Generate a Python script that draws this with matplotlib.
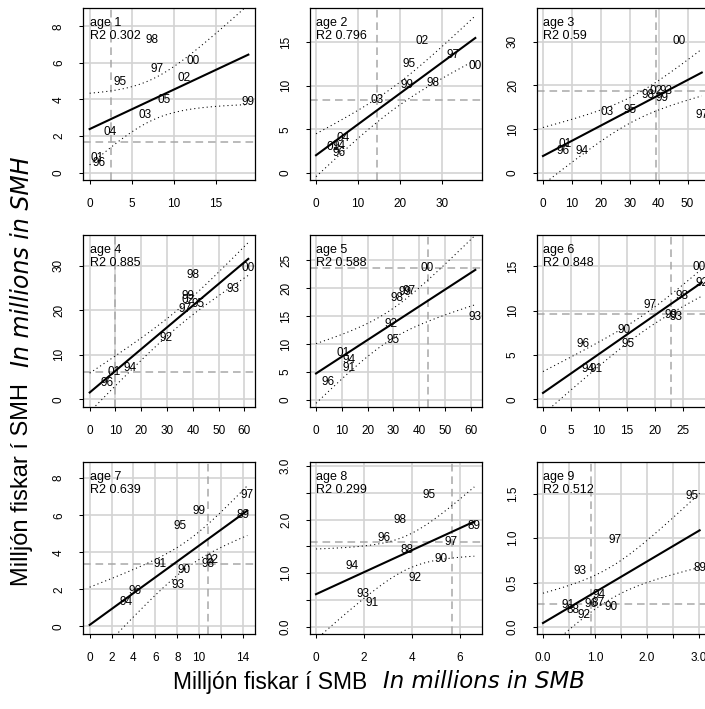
import numpy as np
import matplotlib
matplotlib.use('Agg')
import matplotlib.pyplot as plt

plt.rcParams['font.family'] = ['Liberation Sans', 'DejaVu Sans']
plt.rcParams['lines.scale_dashes'] = False

# aldur og R2 texti
ages = [1, 2, 3, 4, 5, 6, 7, 8, 9]
r2_text = ['0.302', '0.796', '0.59', '0.885', '0.588', '0.848', '0.639', '0.299', '0.512']

# ar (merki), SMB (x) og SMH (y) fyrir hvern aldur
lab1 = ['98', '00', '97', '95', '02', '05', '03', '99', '04', '01', '96']
x1 = [7.42, 12.3, 8.06, 3.65, 11.2, 8.85, 6.55, 18.85, 2.46, 0.87, 1.11]
y1 = [7.23, 6.12, 5.66, 4.95, 5.2, 3.98, 3.16, 3.89, 2.25, 0.82, 0.51]

lab2 = ['02', '97', '00', '95', '99', '98', '03', '04', '01', '94', '96']
x2 = [25.4, 32.8, 38.0, 22.2, 21.6, 27.8, 14.6, 6.56, 4.0, 5.6, 5.6]
y2 = [15.19, 13.58, 12.23, 12.54, 10.04, 10.31, 8.38, 3.96, 3.0, 3.12, 2.23]

lab3 = ['00', '97', '03', '95', '98', '02', '93', '99', '01', '96', '94']
x3 = [46.9, 54.9, 22.2, 30.0, 36.3, 39.2, 42.6, 41.1, 7.5, 7.1, 13.6]
y3 = [30.2, 13.2, 14.0, 14.4, 17.8, 18.8, 18.6, 17.1, 6.58, 5.05, 5.05]

lab4 = ['98', '00', '93', '99', '02', '97', '95', '92', '01', '94', '96']
x4 = [40.2, 61.5, 55.7, 38.2, 38.2, 36.9, 42.1, 29.5, 9.46, 15.8, 6.9]
y4 = [28.0, 29.4, 24.7, 23.2, 22.3, 20.2, 21.3, 13.7, 6.2, 6.96, 3.6]

lab5 = ['00', '97', '99', '98', '93', '92', '95', '01', '94', '91', '96']
x5 = [43.1, 36.1, 34.4, 31.4, 61.7, 29.0, 29.9, 10.4, 12.7, 12.7, 4.8]
y5 = [23.5, 19.5, 19.2, 18.2, 14.9, 13.5, 10.7, 8.33, 7.14, 5.77, 3.15]

lab6 = ['00', '92', '98', '97', '99', '93', '90', '96', '95', '94', '91']
x6 = [27.8, 28.3, 24.7, 19.05, 22.8, 23.8, 14.5, 7.14, 15.2, 8.0, 9.5]
y6 = [14.85, 13.1, 11.65, 10.64, 9.5, 9.3, 7.8, 6.2, 6.2, 3.42, 3.42]

lab7 = ['97', '89', '99', '95', '91', '92', '98', '90', '93', '96', '94']
x7 = [14.4, 14.0, 10.0, 8.3, 6.4, 11.2, 10.85, 8.66, 8.05, 4.1, 3.3]
y7 = [7.07, 5.99, 6.2, 5.4, 3.35, 3.56, 3.35, 3.02, 2.25, 1.9, 1.31]

lab8 = ['95', '98', '89', '96', '97', '88', '90', '94', '92', '93', '91']
x8 = [4.72, 3.51, 6.6, 2.82, 5.65, 3.78, 5.21, 1.49, 4.14, 1.94, 2.32]
y8 = [2.46, 1.99, 1.875, 1.66, 1.58, 1.44, 1.27, 1.125, 0.91, 0.60, 0.44]

lab9 = ['95', '97', '89', '93', '94', '96', '87', '90', '91', '88', '92']
x9 = [2.87, 1.38, 3.01, 0.72, 1.08, 0.93, 1.06, 1.31, 0.49, 0.58, 0.79]
y9 = [1.47, 0.98, 0.667, 0.626, 0.356, 0.255, 0.274, 0.225, 0.244, 0.19, 0.13]

# strikalinur (krossinn)
vline = [2.58, 14.56, 39.2, 10.0, 43.2, 22.9, 10.85, 5.67, 0.93]
hline = [1.70, 8.38, 18.8, 6.2, 23.6, 9.62, 3.35, 1.59, 0.255]

labs = [lab1, lab2, lab3, lab4, lab5, lab6, lab7, lab8, lab9]
xs = [x1, x2, x3, x4, x5, x6, x7, x8, x9]
ys = [y1, y2, y3, y4, y5, y6, y7, y8, y9]

# asar
xlims = [(-0.79, 19.64), (-1.44, 39.6), (-2.07, 57.4), (-2.6, 64.1), (-2.34, 64.3),
         (-1.07, 29.6), (-0.61, 15.1), (-0.25, 6.92), (-0.115, 3.19)]
ylims = [(-0.40, 9.0), (-0.85, 18.96), (-1.68, 37.7), (-1.72, 36.9), (-1.25, 29.46),
         (-0.86, 18.5), (-0.41, 8.87), (-0.14, 3.08), (-0.079, 1.856)]
xticks = [[0, 5, 10, 15], [0, 10, 20, 30], [0, 10, 20, 30, 40, 50],
          [0, 10, 20, 30, 40, 50, 60], [0, 10, 20, 30, 40, 50, 60],
          [0, 5, 10, 15, 20, 25], [0, 2, 4, 6, 8, 10, 12, 14], [0, 2, 4, 6],
          [0, 0.5, 1, 1.5, 2, 2.5, 3]]
xticklabs = [None, None, None, None, None, None,
             ['0', '2', '4', '6', '8', '10', '', '14'], None,
             ['0.0', '', '1.0', '', '2.0', '', '3.0']]
yticks = [[0, 2, 4, 6, 8], [0, 5, 10, 15], [0, 10, 20, 30], [0, 10, 20, 30],
          [0, 5, 10, 15, 20, 25], [0, 5, 10, 15], [0, 2, 4, 6, 8],
          [0, 0.5, 1, 1.5, 2, 2.5, 3], [0, 0.5, 1, 1.5]]
yticklabs = [None, None, None, None, None, None, None,
             ['0.0', '', '1.0', '', '2.0', '', '3.0'],
             ['0.0', '0.5', '1.0', '1.5']]

zq = 1.96  # 95% bil

W, H = 705., 709.
lefts = [83, 310, 537]
tops = [8, 235, 462]
size = 172

fig = plt.figure(figsize=(W / 100, H / 100), dpi=100)

for i in range(9):
    r, c = divmod(i, 3)
    ax = fig.add_axes([lefts[c] / W, 1 - (tops[r] + size) / H, size / W, size / H])
    x = np.array(xs[i])
    y = np.array(ys[i])
    n = len(x)

    # adhvarfsgreining og oryggisbil
    b, a = np.polyfit(x, y, 1)
    xx = np.linspace(0, x.max(), 200)
    fit = a + b * xx
    s = np.sqrt(np.sum((y - (a + b * x)) ** 2) / (n - 2))
    sxx = np.sum((x - x.mean()) ** 2)
    hw = zq * s * np.sqrt(1.0 / n + (xx - x.mean()) ** 2 / sxx)

    ax.set_xlim(xlims[i])
    ax.set_ylim(ylims[i])
    ax.set_xticks(xticks[i])
    ax.set_yticks(yticks[i])
    if xticklabs[i] is not None:
        ax.set_xticklabels(xticklabs[i])
    else:
        ax.set_xticklabels([str(v) for v in xticks[i]])
    if yticklabs[i] is not None:
        ax.set_yticklabels(yticklabs[i])
    else:
        ax.set_yticklabels([str(v) for v in yticks[i]])
    for lb in ax.get_yticklabels():
        lb.set_rotation(90)
        lb.set_va('center')
    ax.grid(True, color='#d3d3d3', lw=1.2)
    ax.set_axisbelow(True)
    ax.tick_params(direction='out', length=3, width=0.75, labelsize=8.5, pad=10, colors='black')
    for sp in ax.spines.values():
        sp.set_linewidth(0.9)

    ax.axvline(vline[i], color='#a8a8a8', lw=1.1, dashes=(5.5, 3.5))
    ax.axhline(hline[i], color='#a8a8a8', lw=1.1, dashes=(5.5, 3.5))

    ax.plot(xx, fit, color='black', lw=1.5)
    ax.plot(xx, fit + hw, color='black', lw=0.75, dashes=(0.8, 2.2))
    ax.plot(xx, fit - hw, color='black', lw=0.75, dashes=(0.8, 2.2))

    for xv, yv, lb in zip(x, y, labs[i]):
        ax.text(xv, yv, lb, ha='center', va='center', fontsize=8.5, clip_on=True)

    tr = ax.get_xaxis_transform()
    ax.text(0, 1 - 15 / size, 'age %d' % ages[i], transform=tr, ha='left', va='center', fontsize=9)
    ax.text(0, 1 - 28 / size, 'R2 ' + r2_text[i], transform=tr, ha='left', va='center', fontsize=9)

# titlar
fig.text(367 / W, 1 - 682 / H, 'Milljón fiskar í SMB', ha='right', va='center', fontsize=16.5)
fig.text(383 / W, 1 - 682 / H, 'In millions in SMB', ha='left', va='center', fontsize=16.5,
         family='DejaVu Sans', style='oblique')
fig.text(22 / W, 1 - 383 / H, 'Milljón fiskar í SMH', ha='center', va='top', fontsize=17, rotation=90)
fig.text(22 / W, 1 - 367 / H, 'In millions in SMH', ha='center', va='bottom', fontsize=17, rotation=90,
         family='DejaVu Sans', style='oblique')

fig.savefig('out.png', dpi=100)
